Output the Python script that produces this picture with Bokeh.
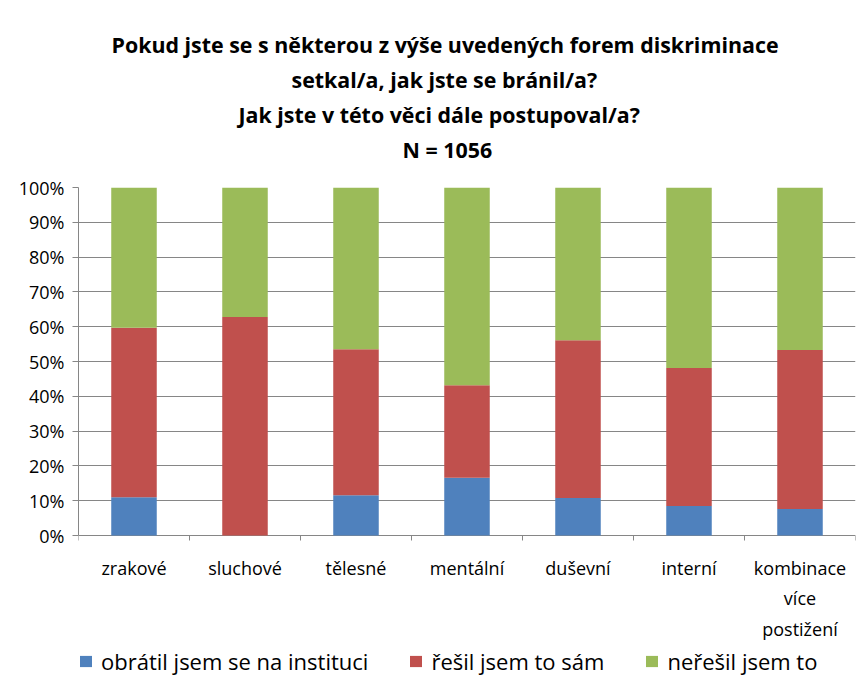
from bokeh.plotting import figure
from bokeh.models import (ColumnDataSource, Range1d, FixedTicker, PrintfTickFormatter,
                          Legend, LegendItem, Title, LinearAxis, Grid)
from bokeh.core.properties import value
from bokeh.embed import file_html
from bokeh.resources import INLINE

categories = ["zrakové", "sluchové", "tělesné", "mentální", "duševní", "interní",
              "kombinace\nvíce\npostižení"]
institution = [11.0, 0.0, 11.6, 16.6, 10.8, 8.5, 7.6]
self_solved = [48.7, 62.8, 41.9, 26.6, 45.3, 39.6, 45.7]
not_solved = [round(100 - a - b, 1) for a, b in zip(institution, self_solved)]
series_names = ["obrátil jsem se na instituci", "řešil jsem to sám", "neřešil jsem to"]
colors = ["#4F81BD", "#C0504D", "#9BBB59"]
y_ticks = [0, 10, 20, 30, 40, 50, 60, 70, 80, 90, 100]
title_lines = ["Pokud jste se s některou z výše uvedených forem diskriminace",
               "setkal/a, jak jste se bránil/a?",
               "Jak jste v této věci dále postupoval/a?",
               "N = 1056"]
title_offsets = [33, 213, 160, 324]

n = len(categories)
xs = [i + 0.5 for i in range(n)]
bounds = list(range(n + 1))
src = ColumnDataSource(dict(x=xs, inst=institution, sam=self_solved, ne=not_solved))

FONT = "Open Sans"
GRAY = "#868686"
PX = 100 / 348.0  # data units per pixel on the y scale

p = figure(frame_width=777, frame_height=497,
           x_range=Range1d(0, n), y_range=Range1d(-149 * PX, 100),
           output_backend="svg", toolbar_location=None, title=None,
           x_axis_location=None,
           min_border_left=78, min_border_right=6, min_border_top=187,
           min_border_bottom=0, background_fill_color="white",
           border_fill_color="white")
p.outline_line_color = None

# remove any vertical grid
for r in list(p.center):
    if isinstance(r, Grid) and r.dimension == 0:
        r.visible = False

rs = p.vbar_stack(["inst", "sam", "ne"], x="x", width=0.41, source=src,
                  fill_color=colors, line_color=None)

# y axis
p.yaxis.ticker = FixedTicker(ticks=y_ticks, minor_ticks=[])
p.yaxis.bounds = (0, 100)
p.yaxis.formatter = PrintfTickFormatter(format="%d%%")
p.yaxis.axis_line_color = GRAY
p.yaxis.major_tick_line_color = GRAY
p.yaxis.major_tick_out = 6
p.yaxis.major_tick_in = 0
p.yaxis.major_label_standoff = 8
p.yaxis.major_label_text_font = FONT
p.yaxis.major_label_text_font_size = "18px"
p.yaxis.major_label_text_color = "black"

for g in p.center:
    if isinstance(g, Grid) and g.dimension == 1:
        g.ticker = FixedTicker(ticks=y_ticks)
        g.grid_line_color = GRAY
        g.grid_line_alpha = 1.0

# category boundary ticks and category labels under the baseline
p.segment(x0=bounds, y0=[0] * len(bounds), x1=bounds, y1=[-5 * PX] * len(bounds),
          line_color=GRAY, line_width=1)
p.text(x=xs, y=[-20 * PX] * n, text=categories, text_align="center",
       text_baseline="top", text_font=value(FONT), text_font_size="18px",
       text_color="black", text_line_height=1.28)

# invisible spacer between frame and titles (white tick on white background)
spacer = LinearAxis(ticker=FixedTicker(ticks=[0], minor_ticks=[]), axis_line_color=None,
                    major_tick_line_color="white", minor_tick_line_color=None,
                    major_tick_out=22, major_tick_in=0, minor_tick_out=0,
                    major_label_standoff=0, major_label_overrides={0: ""},
                    major_label_text_font_size="1px")
p.add_layout(spacer, "above")

# titles: added nearest-first
for txt, off in reversed(list(zip(title_lines, title_offsets))):
    p.add_layout(Title(text=txt, align="left", offset=off, text_font=FONT,
                       text_font_style="bold", text_font_size="21.4px",
                       text_color="black", standoff=4), "above")

legend = Legend(items=[LegendItem(label=nm, renderers=[r]) for nm, r in zip(series_names, rs)],
                orientation="horizontal", location=(0, 8),
                glyph_width=15, glyph_height=14, label_height=20,
                label_text_font=FONT, label_text_font_size="22px",
                label_text_color="black",
                label_standoff=8, spacing=40, padding=0, margin=0,
                border_line_color=None, background_fill_alpha=0)
p.add_layout(legend, "center")

open("out.html", "w").write(file_html(p, INLINE))
